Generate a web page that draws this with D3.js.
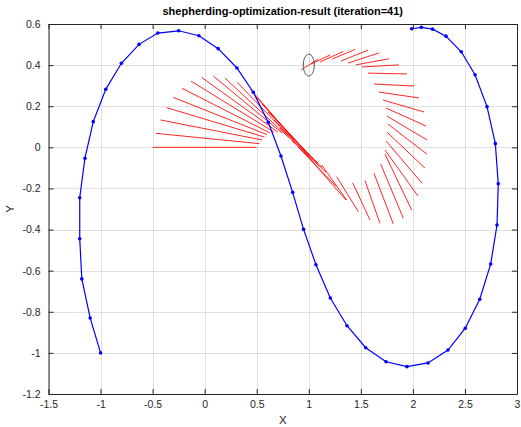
<!DOCTYPE html>
<html><head><meta charset="utf-8">
<script src="https://cdn.jsdelivr.net/npm/d3@7"></script>
<style>
html,body{margin:0;padding:0;background:#fff;}
svg{display:block;font-family:"Liberation Sans",Arial,Helvetica,sans-serif;}
</style></head>
<body><svg id="c" width="521" height="427"></svg>
<script>
const titleText = "shepherding-optimization-result (iteration=41)";
const xTicks = [-1.5,-1,-0.5,0,0.5,1,1.5,2,2.5,3];
const yTicks = [-1.2,-1,-0.8,-0.6,-0.4,-0.2,0,0.2,0.4,0.6];

// blue trajectory
const pathX = [-1.0,-1.1,-1.18,-1.2,-1.2,-1.15,-1.07,-0.95,-0.80,-0.63,-0.45,-0.25,-0.055,0.13,0.31,0.467,0.611,0.733,0.845,0.95,1.069,1.207,1.367,1.547,1.742,1.943,2.145,2.337,2.503,2.642,2.747,2.808,2.82,2.792,2.712,2.597,2.465,2.318,2.19,2.081,1.988];
const pathY = [-1.0,-0.83,-0.64,-0.445,-0.245,-0.053,0.125,0.282,0.409,0.501,0.556,0.567,0.543,0.48,0.386,0.268,0.122,-0.042,-0.219,-0.399,-0.571,-0.733,-0.868,-0.975,-1.043,-1.067,-1.049,-0.986,-0.88,-0.739,-0.568,-0.378,-0.177,0.018,0.198,0.353,0.465,0.541,0.575,0.584,0.577];

// red segments (start x/y, end x/y)
const segX1 = [-0.50,-0.468,-0.423,-0.365,-0.302,-0.218,-0.132,-0.029,0.083,0.195,0.313,0.442,
  0.493,0.550,0.608,0.666,0.723,0.781,0.839,0.896,0.925,0.954,
  1.124,1.268,1.422,1.540,1.626,1.691,1.732,
  1.732,1.742,1.751,1.761,1.751,1.742,1.713,1.675,1.626,1.569,1.511,1.453,1.377,1.309,1.223,1.108,1.021,0.925];
const segY1 = [0.0,0.068,0.133,0.193,0.243,0.287,0.322,0.340,0.347,0.337,0.316,0.282,
  0.245,0.211,0.172,0.133,0.094,0.060,0.031,0.001,-0.013,-0.023,
  -0.086,-0.143,-0.172,-0.162,-0.126,-0.081,-0.033,
  -0.013,0.031,0.074,0.113,0.152,0.191,0.230,0.269,0.308,0.361,0.391,0.401,0.410,0.420,0.429,0.415,0.405,0.376];
const segX2 = [0.50,0.526,0.550,0.574,0.598,0.627,0.666,0.704,0.743,0.781,0.819,0.858,
  0.896,0.935,0.973,1.012,1.050,1.089,1.127,1.165,1.261,1.357,
  1.364,1.476,1.588,1.684,1.812,1.908,1.988,
  2.049,2.087,2.116,2.135,2.135,2.126,2.107,2.059,2.011,1.943,1.866,1.770,1.674,1.569,1.444,1.329,1.204,1.088];
const segY2 = [0.0,0.018,0.036,0.050,0.062,0.070,0.074,0.074,0.070,0.060,0.050,0.036,
  0.021,0.001,-0.018,-0.038,-0.057,-0.076,-0.096,-0.120,-0.188,-0.256,
  -0.256,-0.313,-0.354,-0.370,-0.373,-0.345,-0.305,
  -0.237,-0.174,-0.101,-0.033,0.036,0.104,0.172,0.240,0.298,0.357,0.401,0.431,0.459,0.473,0.476,0.466,0.449,0.429];

// target circle
const targetX = [1.0];
const targetY = [0.4];
const targetR = [0.053];

const svg = d3.select("#c");
const L = 48.5, R = 517, T = 24, B = 394;
const x = d3.scaleLinear().domain([-1.5,3]).range([L,R]);
const y = d3.scaleLinear().domain([-1.2,0.6]).range([B,T]);
const fmt = d => String(d);
const axisCol = "#262626";

// grid
const g = svg.append("g");
g.selectAll("line.gx").data(xTicks).join("line")
  .attr("x1", d=>Math.round(x(d))+0.5).attr("x2", d=>Math.round(x(d))+0.5)
  .attr("y1", T).attr("y2", B).attr("stroke","#dfdfdf").attr("stroke-width",1);
g.selectAll("line.gy").data(yTicks).join("line")
  .attr("y1", d=>Math.round(y(d))+0.5).attr("y2", d=>Math.round(y(d))+0.5)
  .attr("x1", L).attr("x2", R).attr("stroke","#dfdfdf").attr("stroke-width",1);

// data
const plot = svg.append("g");
plot.selectAll("line.seg").data(segX1.map((d,i)=>i)).join("line")
  .attr("x1", i=>x(segX1[i])).attr("y1", i=>y(segY1[i]))
  .attr("x2", i=>x(segX2[i])).attr("y2", i=>y(segY2[i]))
  .attr("stroke","#ff0000").attr("stroke-width",1).attr("stroke-opacity",0.85);

const line = d3.line().x(i=>x(pathX[i])).y(i=>y(pathY[i]));
plot.append("path").datum(pathX.map((d,i)=>i)).attr("d", line)
  .attr("fill","none").attr("stroke","#0000ff").attr("stroke-width",1.2);
plot.selectAll("circle.pt").data(pathX.map((d,i)=>i)).join("circle")
  .attr("cx", i=>x(pathX[i])).attr("cy", i=>y(pathY[i])).attr("r",1.8).attr("fill","#0000ff");

// target ellipse in data units
const ang = d3.range(0, 361, 6).map(a=>a*Math.PI/180);
targetX.forEach((cx,k)=>{
  const el = d3.line().x(a=>x(cx + targetR[k]*Math.cos(a))).y(a=>y(targetY[k] + targetR[k]*Math.sin(a)));
  plot.append("path").datum(ang).attr("d", el).attr("fill","none")
    .attr("stroke","#444").attr("stroke-width",1);
});

// axes
const ax = svg.append("g").attr("font-size",10.5).attr("fill",axisCol);
const xb = d3.axisBottom(x).tickValues(xTicks).tickFormat(fmt).tickSizeInner(-5).tickSizeOuter(0).tickPadding(7);
const xt = d3.axisTop(x).tickValues(xTicks).tickFormat("").tickSizeInner(-5).tickSizeOuter(0);
const yl = d3.axisLeft(y).tickValues(yTicks).tickFormat(fmt).tickSizeInner(-5).tickSizeOuter(0).tickPadding(8);
const yr = d3.axisRight(y).tickValues(yTicks).tickFormat("").tickSizeInner(-5).tickSizeOuter(0);
function style(sel){
  sel.select(".domain").attr("stroke",axisCol);
  sel.selectAll(".tick line").attr("stroke",axisCol);
  sel.selectAll(".tick text").attr("fill",axisCol).attr("font-size",10.5)
     .attr("font-family","'Liberation Sans',Arial,sans-serif");
}
ax.append("g").attr("transform",`translate(0,${B})`).call(xb).call(style);
ax.append("g").attr("transform",`translate(0,${T})`).call(xt).call(style);
ax.append("g").attr("transform",`translate(${L},0)`).call(yl).call(style);
ax.append("g").attr("transform",`translate(${R},0)`).call(yr).call(style);
svg.selectAll(".tick text").attr("font-size",10.5);

// title & labels
svg.append("text").attr("x",(L+R)/2).attr("y",15).attr("text-anchor","middle")
  .attr("font-weight","bold").attr("font-size",11).attr("fill","#000").text(titleText);
svg.append("text").attr("x",(L+R)/2).attr("y",424).attr("text-anchor","middle")
  .attr("font-size",11.5).attr("fill",axisCol).text("X");
svg.append("text").attr("transform",`translate(14,${(T+B)/2}) rotate(-90)`).attr("text-anchor","middle")
  .attr("font-size",11.5).attr("fill",axisCol).text("Y");
</script></body></html>
